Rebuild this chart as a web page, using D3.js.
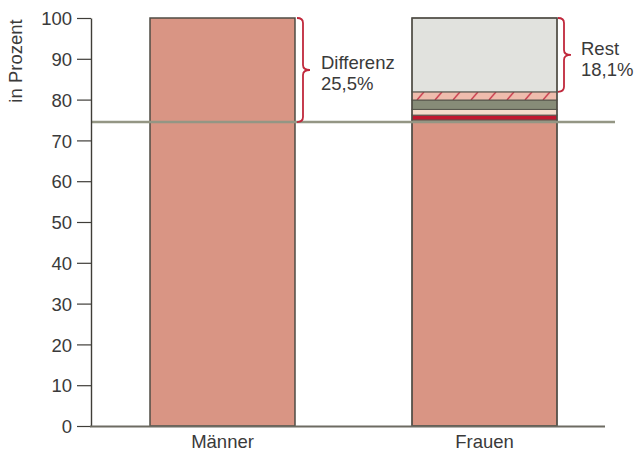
<!DOCTYPE html>
<html><head><meta charset="utf-8">
<script src="https://cdn.jsdelivr.net/npm/d3@7"></script>
<style>body{margin:0;background:#fff}svg{display:block}</style>
</head><body>
<svg id="c" width="635" height="452"></svg>
<script>
// ---- data ----
const categories = ["Männer", "Frauen"];
const maennerValues = [100];
const frauenSegments = ["Basis", "Teil1", "Teil2", "Teil3", "Teil4", "Rest"];
const frauenValues = [75.0, 1.2, 1.4, 2.3, 2.0, 18.1];
const referenceValue = 74.5;
const yTicks = [0, 10, 20, 30, 40, 50, 60, 70, 80, 90, 100];
const annotDiff = ["Differenz", "25,5%"];
const annotRest = ["Rest", "18,1%"];

const segFill = ["#d99584", "#c2182f", "#f4dccb", "#878c78", "url(#hatch)", "#e1e2de"];

const svg = d3.select("#c");
const font = "'Liberation Sans', Arial, Helvetica, sans-serif";
const fs = 18.5;
const y = d3.scaleLinear().domain([0, 100]).range([426, 18]);
const x = d3.scaleBand().domain(categories).range([150, 557]).paddingInner(0.4466).paddingOuter(0);
const axisX = 91;

const defs = svg.append("defs");

let cum = 0;
const stack = frauenValues.map((v, i) => { const s = {y0: cum, y1: cum + v, i}; cum += v; return s; });
const hs = stack[4];
const pat = defs.append("pattern").attr("id", "hatch").attr("patternUnits", "userSpaceOnUse")
  .attr("x", x("Frauen") + 4).attr("y", y(hs.y1)).attr("width", 18).attr("height", y(hs.y0) - y(hs.y1));
pat.append("rect").attr("width", 18).attr("height", 20).attr("fill", "#efbcad");
pat.append("line").attr("x1", 1).attr("y1", y(hs.y0) - y(hs.y1)).attr("x2", 8).attr("y2", 0)
  .attr("stroke", "#c8374a").attr("stroke-width", 1.4);

// Männer bar
svg.append("rect").attr("x", x("Männer")).attr("y", y(maennerValues[0]))
  .attr("width", x.bandwidth()).attr("height", y(0) - y(maennerValues[0]))
  .attr("fill", "#d99584").attr("stroke", "#4f4c44").attr("stroke-width", 1.5);

svg.selectAll("rect.seg").data(stack).join("rect").attr("class", "seg")
  .attr("x", x("Frauen")).attr("y", d => y(d.y1))
  .attr("width", x.bandwidth()).attr("height", d => y(d.y0) - y(d.y1))
  .attr("fill", d => segFill[d.i]).attr("stroke", "#57554c").attr("stroke-width", 1);
svg.append("rect").attr("x", x("Frauen")).attr("y", y(100))
  .attr("width", x.bandwidth()).attr("height", y(0) - y(100))
  .attr("fill", "none").attr("stroke", "#4f4c44").attr("stroke-width", 1.5);

// reference line
svg.append("line").attr("x1", axisX).attr("x2", 615).attr("y1", y(referenceValue)).attr("y2", y(referenceValue))
  .attr("stroke", "#949684").attr("stroke-width", 2.6);

// axes
const yAxis = d3.axisLeft(y).tickValues(yTicks).tickSize(14).tickPadding(5).tickSizeOuter(0);
const ga = svg.append("g").attr("transform", `translate(${axisX},0)`).call(yAxis);
ga.select(".domain").attr("stroke", "#3f3d38").attr("stroke-width", 1.4);
ga.selectAll(".tick line").attr("stroke", "#3f3d38").attr("stroke-width", 1.2);
ga.selectAll(".tick text").attr("font-family", font).attr("font-size", fs).attr("fill", "#3a3a3a").attr("dy", "0.36em");

svg.append("line").attr("x1", axisX - 1).attr("x2", 605).attr("y1", y(0) + 0.5).attr("y2", y(0) + 0.5)
  .attr("stroke", "#6d6b62").attr("stroke-width", 2);

const xAxis = d3.axisBottom(x).tickSize(0).tickPadding(9);
const gx = svg.append("g").attr("transform", `translate(0,${y(0)})`).call(xAxis);
gx.select(".domain").remove();
gx.selectAll(".tick text").attr("font-family", font).attr("font-size", fs).attr("fill", "#3a3a3a");

// y title
svg.append("text").attr("transform", `translate(22,${61}) rotate(-90)`).attr("text-anchor", "middle")
  .attr("font-family", font).attr("font-size", fs).attr("fill", "#3a3a3a").text("in Prozent");

// braces
function brace(xb, yTop, yBot, w) {
  const ym = (yTop + yBot) / 2, r = 5;
  return `M${xb - 3},${yTop} Q${xb + 3},${yTop} ${xb + 3},${yTop + r}` +
    ` L${xb + 3},${ym - r} Q${xb + 3},${ym} ${xb + 3 + w},${ym}` +
    ` Q${xb + 3},${ym} ${xb + 3},${ym + r}` +
    ` L${xb + 3},${yBot - r} Q${xb + 3},${yBot} ${xb - 3},${yBot}`;
}
const bx1 = x("Männer") + x.bandwidth() + 5;
svg.append("path").attr("d", brace(bx1, y(100), y(referenceValue), 7))
  .attr("fill", "none").attr("stroke", "#c0283c").attr("stroke-width", 1.8);
const bx2 = x("Frauen") + x.bandwidth() + 4;
svg.append("path").attr("d", brace(bx2, y(100), y(100 - frauenValues[5]), 7))
  .attr("fill", "none").attr("stroke", "#c0283c").attr("stroke-width", 1.8);

function label(lines, xs, y0) {
  svg.append("text").attr("font-family", font).attr("font-size", fs).attr("fill", "#3a3a3a")
    .selectAll("tspan").data(lines).join("tspan").attr("x", xs).attr("y", (d, i) => y0 + i * 21).text(d => d);
}
label(annotDiff, bx1 + 21, 69);
label(annotRest, bx2 + 20, 55);
</script>
</body></html>
